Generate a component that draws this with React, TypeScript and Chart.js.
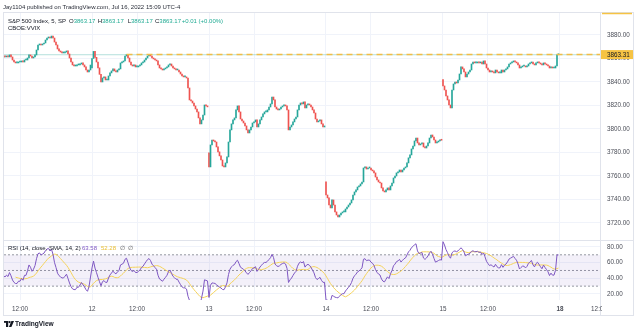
import React, { useEffect, useRef } from "react";
import { Chart, registerables } from "chart.js";

Chart.register(...registerables);

const FONT = "'Liberation Sans', Arial, Helvetica, sans-serif";

// ---------------- data (5-minute bars, 78 per session) ----------------
const DAY_OPENS = [3866.5, 3852.0, 3779.7, 3755.0, 3842.0];

const JUL11_CLOSE = [
  3866.0, 3864.2, 3865.5, 3863.1, 3864.8, 3862.9, 3861.5, 3863.4, 3862.0, 3863.8,
  3862.5, 3861.2, 3862.8, 3861.5, 3863.0, 3862.0, 3863.6, 3862.2, 3861.0, 3862.0,
  3861.3, 3862.1, 3861.3, 3863.0, 3861.3, 3858.7, 3857.0, 3856.2, 3856.2, 3857.0,
  3857.0, 3857.9, 3857.0, 3858.7, 3858.7, 3860.4, 3863.0, 3862.1, 3860.4, 3861.3,
  3863.0, 3867.2, 3871.5, 3872.3, 3871.5, 3872.3, 3873.2, 3875.7, 3877.4, 3878.3,
  3877.4, 3879.1, 3877.4, 3874.0, 3871.5, 3868.1, 3866.4, 3865.5, 3864.7, 3864.7,
  3865.5, 3866.4, 3863.8, 3860.4, 3857.0, 3854.5, 3853.6, 3853.6, 3854.5, 3854.5,
  3855.3, 3856.2, 3854.5, 3852.8, 3850.2, 3848.5, 3850.2, 3854.4,
];

const JUL12_CLOSE = [
  3860.0, 3866.0, 3861.0, 3857.0, 3852.0, 3846.5, 3840.0, 3843.4, 3844.3, 3841.7,
  3841.7, 3845.1, 3847.7, 3849.4, 3851.1, 3849.4, 3848.5, 3850.2, 3851.1, 3856.2,
  3857.0, 3857.9, 3862.1, 3863.3, 3860.4, 3857.0, 3854.5, 3853.6, 3854.5, 3852.8,
  3852.8, 3853.6, 3854.5, 3856.2, 3857.0, 3858.7, 3860.4, 3862.1, 3863.0, 3862.1,
  3860.4, 3859.6, 3858.7, 3857.9, 3854.5, 3851.9, 3851.1, 3850.2, 3851.1, 3851.9,
  3852.8, 3854.5, 3855.3, 3853.6, 3851.9, 3851.1, 3850.2, 3850.2, 3848.5, 3846.8,
  3845.1, 3844.3, 3844.3, 3843.4, 3834.9, 3824.7, 3823.8, 3822.1, 3819.6, 3817.0,
  3814.5, 3809.4, 3804.3, 3807.7, 3811.9, 3820.4, 3819.6, 3818.8,
];

const JUL13_CLOSE = [
  3767.7, 3786.4, 3790.6, 3789.8, 3788.9, 3784.7, 3780.5, 3777.1, 3773.6, 3768.5,
  3767.7, 3771.1, 3776.2, 3788.9, 3799.2, 3804.3, 3807.7, 3809.4, 3816.2, 3819.6,
  3814.5, 3808.5, 3806.8, 3805.1, 3802.6, 3799.2, 3796.6, 3799.2, 3801.7, 3805.1,
  3806.0, 3807.7, 3801.7, 3804.3, 3807.7, 3810.2, 3812.8, 3814.5, 3814.5, 3816.2,
  3818.7, 3821.3, 3827.2, 3824.7, 3818.7, 3817.0, 3816.2, 3817.0, 3818.7, 3819.6,
  3820.4, 3819.6, 3816.2, 3799.2, 3801.7, 3803.4, 3806.0, 3808.5, 3810.2, 3816.2,
  3820.4, 3822.1, 3821.3, 3823.0, 3817.9, 3820.4, 3821.3, 3820.4, 3818.7, 3816.2,
  3813.6, 3808.5, 3806.0, 3806.8, 3807.7, 3804.3, 3801.7, 3801.8,
];

const JUL14_CLOSE = [
  3743.8, 3741.3, 3735.3, 3732.8, 3739.6, 3735.3, 3729.4, 3726.8, 3725.1, 3726.8,
  3728.5, 3729.4, 3729.4, 3731.9, 3733.6, 3735.3, 3737.0, 3739.6, 3743.8, 3746.4,
  3748.1, 3750.6, 3751.5, 3753.2, 3754.9, 3766.8, 3767.7, 3765.9, 3766.8, 3766.8,
  3765.1, 3764.3, 3762.6, 3759.1, 3756.6, 3754.9, 3754.0, 3749.8, 3747.2, 3746.4,
  3748.1, 3749.8, 3748.1, 3751.5, 3754.0, 3758.3, 3760.0, 3762.6, 3763.4, 3765.1,
  3763.4, 3765.1, 3766.8, 3767.7, 3771.1, 3775.4, 3777.9, 3783.0, 3785.5, 3789.8,
  3792.3, 3788.1, 3786.4, 3787.2, 3788.1, 3784.7, 3783.8, 3785.5, 3788.1, 3792.3,
  3794.9, 3793.2, 3790.6, 3788.1, 3788.9, 3789.8, 3790.6, 3790.4,
];

const JUL15_CLOSE = [
  3836.6, 3833.2, 3828.1, 3824.7, 3820.4, 3817.9, 3833.2, 3838.3, 3840.0, 3839.1,
  3841.7, 3846.8, 3852.8, 3851.1, 3848.5, 3844.3, 3846.8, 3848.5, 3850.2, 3855.3,
  3857.0, 3856.2, 3856.2, 3857.0, 3856.2, 3857.0, 3855.3, 3857.9, 3855.3, 3851.9,
  3850.2, 3848.5, 3849.4, 3848.5, 3847.7, 3850.2, 3848.5, 3847.7, 3847.7, 3850.2,
  3848.5, 3850.2, 3851.1, 3852.8, 3855.3, 3856.2, 3857.0, 3857.9, 3857.0, 3856.2,
  3854.5, 3851.9, 3852.8, 3853.6, 3853.6, 3852.8, 3853.6, 3855.3, 3856.2, 3857.0,
  3855.3, 3854.5, 3856.2, 3857.0, 3856.2, 3855.3, 3854.5, 3856.2, 3855.3, 3854.5,
  3853.6, 3851.9, 3852.8, 3851.9, 3851.9, 3853.6, 3863.16, 3863.17,
];

const LAST_PRICE = 3863.17;
const LEVEL_PRICE = 3863.31;
const LEVEL_START_BAR = 101;

const PRICE_TICKS = [3720, 3740, 3760, 3780, 3800, 3820, 3840, 3860, 3880];
const RSI_TICKS = [20, 40, 60, 80];
const RSI_UPPER = 70;
const RSI_MID = 50;
const RSI_LOWER = 30;
const RSI_LEN = 14;
const RSI_MA_LEN = 14;

const TIME_TICKS = [30, 78, 108, 156, 186, 234, 264, 312, 342, 390];
const TIME_LABELS = ["12:00", "12", "12:00", "13", "12:00", "14", "12:00", "15", "12:00", "18"];
const BOLD_TICK = 390;
const EDGE_TIME_LABEL = "12:00";

// ---------------- view ----------------
const BARS_PER_DAY = 78;
const X_MIN = 19.333;
const X_MAX = 416.667;
const PRICE_MIN = 3705.5;
const PRICE_MAX = 3898.7;
const RSI_MIN = 12.3;
const RSI_MAX = 88.9;

const GREEN = "#26a69a";
const RED = "#ef5350";
const GRID = "#f0f3fa";
const AXIS_TEXT = "#4a4d57";

function computeRsi(closes: number[], len: number): (number | null)[] {
  const out: (number | null)[] = closes.map(() => null);
  let au = 0;
  let ad = 0;
  for (let i = 1; i < closes.length; i++) {
    const d = closes[i] - closes[i - 1];
    const u = Math.max(d, 0);
    const dn = Math.max(-d, 0);
    if (i <= len) {
      au += u / len;
      ad += dn / len;
      if (i < len) continue;
    } else {
      au = (au * (len - 1) + u) / len;
      ad = (ad * (len - 1) + dn) / len;
    }
    out[i] = ad === 0 ? 100 : 100 - 100 / (1 + au / ad);
  }
  return out;
}

function sma(vals: (number | null)[], len: number): (number | null)[] {
  return vals.map((_, i) => {
    if (i < len - 1) return null;
    let s = 0;
    for (let k = i - len + 1; k <= i; k++) {
      const v = vals[k];
      if (v == null) return null;
      s += v;
    }
    return s / len;
  });
}

export default function App() {
  const ref = useRef<HTMLCanvasElement | null>(null);

  useEffect(() => {
    const canvas = ref.current;
    if (!canvas) return;

    const closes = [...JUL11_CLOSE, ...JUL12_CLOSE, ...JUL13_CLOSE, ...JUL14_CLOSE, ...JUL15_CLOSE];
    const opens = closes.map((c, i) =>
      i % BARS_PER_DAY === 0 ? DAY_OPENS[i / BARS_PER_DAY] : closes[i - 1]
    );
    const candles = closes.map((c, i) => ({ x: i, y: [opens[i], c] }));
    const colors = closes.map((c, i) => (c >= opens[i] ? GREEN : RED));
    const rsi = computeRsi(closes, RSI_LEN);
    const rsiMa = sma(rsi, RSI_MA_LEN);

    const hline = (v: number, from = X_MIN) => [
      { x: from, y: v },
      { x: X_MAX, y: v },
    ];

    const overlay = {
      id: "overlay",
      afterDraw(chart: any) {
        const { ctx, scales } = chart;
        const y = scales.y;
        const x = scales.x;
        ctx.save();
        ctx.strokeStyle = "#e0e3eb";
        ctx.lineWidth = 1;
        ctx.strokeRect(3.5, 12.5, 630, 303);
        const sep = Math.round(y.bottom) + 0.5;
        ctx.beginPath();
        ctx.moveTo(4, sep);
        ctx.lineTo(633, sep);
        ctx.stroke();
        ctx.beginPath();
        ctx.moveTo(600.5, 13);
        ctx.lineTo(600.5, 315);
        ctx.stroke();

        const py = y.getPixelForValue(LEVEL_PRICE);
        ctx.fillStyle = "#f6c343";
        ctx.fillRect(601, py - 4.5, 32, 9);
        ctx.fillStyle = "#131722";
        ctx.font = `6.3px ${FONT}`;
        ctx.textBaseline = "middle";
        ctx.textAlign = "left";
        ctx.fillText(LEVEL_PRICE.toFixed(2), 607, py + 0.5);

        ctx.strokeStyle = "#f6c343";
        ctx.lineWidth = 1.5;
        ctx.beginPath();
        ctx.moveTo(602, 13.5);
        ctx.lineTo(632, 13.5);
        ctx.stroke();

        ctx.beginPath();
        ctx.rect(0, 300, 602, 15);
        ctx.clip();
        ctx.fillStyle = AXIS_TEXT;
        ctx.textAlign = "center";
        ctx.fillText(EDGE_TIME_LABEL, x.getPixelForValue(X_MAX) - 1, 309);
        ctx.restore();
      },
    };

    const valueAxis = (ticks: number[], weight: number, min: number, max: number) => ({
      type: "linear",
      position: "right",
      stack: "panes",
      stackWeight: weight,
      min,
      max,
      afterBuildTicks: (s: any) => {
        s.ticks = ticks.map((v) => ({ value: v }));
      },
      afterFit: (s: any) => {
        s.width = 33;
      },
      ticks: {
        autoSkip: false,
        padding: 7,
        color: AXIS_TEXT,
        font: { size: 6.3, family: FONT },
        callback: (v: any) => Number(v).toFixed(2),
      },
      grid: { color: GRID, drawTicks: false },
      border: { display: false },
    });

    const chart = new Chart(canvas, {
      type: "bar",
      data: {
        datasets: [
          {
            type: "bar",
            label: "S&P 500",
            data: candles as any,
            backgroundColor: colors,
            barThickness: 1,
            minBarLength: 1,
            xAxisID: "x",
            yAxisID: "y",
            order: 2,
            clip: 0,
          } as any,
          {
            type: "line",
            label: "last",
            data: hline(LAST_PRICE),
            borderColor: "rgba(38,166,154,0.35)",
            borderWidth: 1,
            pointRadius: 0,
            yAxisID: "y",
            order: 3,
          },
          {
            type: "line",
            label: "level",
            data: hline(LEVEL_PRICE, LEVEL_START_BAR),
            borderColor: "#f2bd45",
            borderWidth: 1.5,
            borderDash: [6, 4],
            pointRadius: 0,
            yAxisID: "y",
            order: 1,
          },
          {
            type: "line",
            label: "upper",
            data: hline(RSI_UPPER),
            borderColor: "#9598a1",
            borderWidth: 1,
            borderDash: [2, 2],
            pointRadius: 0,
            yAxisID: "yR",
            order: 8,
          },
          {
            type: "line",
            label: "lower",
            data: hline(RSI_LOWER),
            borderColor: "#9598a1",
            borderWidth: 1,
            borderDash: [2, 2],
            pointRadius: 0,
            yAxisID: "yR",
            fill: 3,
            backgroundColor: "rgba(126,87,194,0.09)",
            order: 8,
          },
          {
            type: "line",
            label: "mid",
            data: hline(RSI_MID),
            borderColor: "#9598a1",
            borderWidth: 1,
            borderDash: [2, 2],
            pointRadius: 0,
            yAxisID: "yR",
            order: 8,
          },
          {
            type: "line",
            label: "RSI MA",
            data: rsiMa.map((v, i) => ({ x: i, y: v })),
            borderColor: "#f5d35a",
            borderWidth: 1,
            pointRadius: 0,
            yAxisID: "yR",
            order: 6,
            clip: 0,
          } as any,
          {
            type: "line",
            label: "RSI",
            data: rsi.map((v, i) => ({ x: i, y: v })),
            borderColor: "#7e57c2",
            borderWidth: 1,
            pointRadius: 0,
            yAxisID: "yR",
            order: 5,
            clip: 0,
          } as any,
        ],
      },
      options: {
        animation: false,
        responsive: false,
        devicePixelRatio: 1,
        events: [],
        layout: { padding: { top: 13, left: 4, right: 7, bottom: 17 } },
        plugins: { legend: { display: false }, tooltip: { enabled: false } },
        scales: {
          x: {
            type: "linear",
            position: "bottom",
            min: X_MIN,
            max: X_MAX,
            offset: false,
            afterBuildTicks: (s: any) => {
              s.ticks = TIME_TICKS.map((v) => ({ value: v }));
            },
            afterFit: (s: any) => {
              s.height = 15;
            },
            ticks: {
              autoSkip: false,
              maxRotation: 0,
              padding: 5,
              color: AXIS_TEXT,
              font: (c: any) => ({
                size: 6.3,
                family: FONT,
                weight: c.tick && c.tick.value === BOLD_TICK ? "bold" : "normal",
              }),
              callback: (v: any) => {
                const k = TIME_TICKS.indexOf(Number(v));
                return k >= 0 ? TIME_LABELS[k] : "";
              },
            },
            grid: { color: GRID, drawTicks: false, offset: false },
            border: { display: false },
          },
          y: valueAxis(PRICE_TICKS, 227, PRICE_MIN, PRICE_MAX),
          yR: valueAxis(RSI_TICKS, 60, RSI_MIN, RSI_MAX),
        },
      } as any,
      plugins: [overlay],
    });
    return () => chart.destroy();
  }, []);

  const txt: React.CSSProperties = {
    position: "absolute",
    fontFamily: FONT,
    fontSize: 6,
    lineHeight: "8px",
    whiteSpace: "nowrap",
    color: "#131722",
  };
  const teal = "#22ab94";

  return (
    <div
      style={{
        position: "fixed",
        left: 0,
        top: 0,
        width: 640,
        height: 332,
        background: "#ffffff",
        overflow: "hidden",
      }}
    >
      <canvas ref={ref} width={640} height={332} style={{ position: "absolute", left: 0, top: 0 }} />
      <span style={{ ...txt, left: 3, top: 2.7, color: "#2a2e39" }}>
        Jay1104 published on TradingView.com, Jul 16, 2022 15:09 UTC-4
      </span>
      <span style={{ ...txt, left: 8, top: 16.7 }}>S&amp;P 500 Index, 5, SP</span>
      <span style={{ ...txt, left: 69, top: 16.7 }}>
        O<span style={{ color: teal }}>3863.17</span>
      </span>
      <span style={{ ...txt, left: 97.7, top: 16.7 }}>
        H<span style={{ color: teal }}>3863.17</span>
      </span>
      <span style={{ ...txt, left: 127.7, top: 16.7 }}>
        L<span style={{ color: teal }}>3863.17</span>
      </span>
      <span style={{ ...txt, left: 155, top: 16.7 }}>
        C<span style={{ color: teal }}>3863.17</span>
      </span>
      <span style={{ ...txt, left: 181.7, top: 16.7, color: teal }}>+0.01 (+0.00%)</span>
      <span style={{ ...txt, left: 8, top: 24.3 }}>CBOE:VVIX</span>

      <span style={{ ...txt, left: 8, top: 243.7 }}>RSI (14, close, SMA, 14, 2)</span>
      <span style={{ ...txt, left: 82, top: 243.7, color: "#7e57c2" }}>63.58</span>
      <span style={{ ...txt, left: 101, top: 243.7, color: "#e9bd30" }}>52.28</span>
      <span style={{ ...txt, left: 120, top: 243.7, color: "#555" }}>∅</span>
      <span style={{ ...txt, left: 128, top: 243.7, color: "#555" }}>∅</span>

      <svg
        width={10}
        height={6}
        viewBox="0 0 10 6"
        style={{ position: "absolute", left: 4, top: 321 }}
      >
        <rect x={0} y={0} width={4.2} height={1.8} fill="#131722" />
        <rect x={2} y={0} width={2.2} height={6} fill="#131722" />
        <circle cx={5.6} cy={1.1} r={1.1} fill="#131722" />
        <polygon points="7.4,0 10,0 7.4,6 4.9,6" fill="#131722" />
      </svg>
      <span style={{ ...txt, left: 15, top: 320, fontSize: 6.6, fontWeight: 600 }}>TradingView</span>
    </div>
  );
}
